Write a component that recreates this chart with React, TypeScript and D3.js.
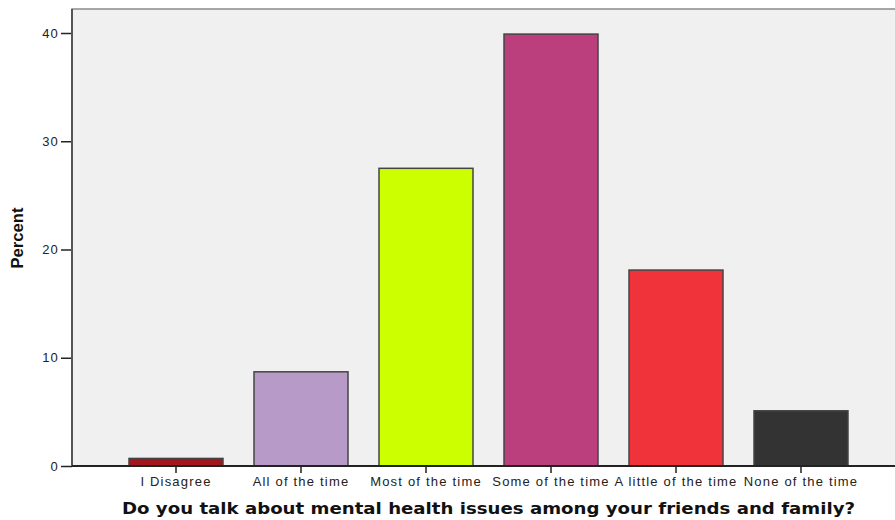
import React, { useEffect, useRef } from 'react';
import * as d3 from 'd3';

const categories = ['I Disagree', 'All of the time', 'Most of the time', 'Some of the time', 'A little of the time', 'None of the time'];
const percents = [0.7, 8.7, 27.5, 39.9, 18.1, 5.1];
const barColors = ['#a3171c', '#b89ac8', '#ccff00', '#bb3e7d', '#f0333a', '#333333'];
const yTicks = [0, 10, 20, 30, 40];

const App: React.FC = () => {
  const svgRef = useRef<SVGSVGElement>(null);
  useEffect(() => {
    const width = 895;
    const height = 520;
    const left = 72, top = 9, bottom = 466, right = 897;

    const svg = d3.select(svgRef.current)
      .attr('width', width)
      .attr('height', height);
    svg.selectAll('*').remove();

    // plot background
    svg.append('rect')
      .attr('x', left).attr('y', top)
      .attr('width', right - left).attr('height', bottom - top)
      .attr('fill', '#f0f0f0')
      .attr('stroke', '#8a8a8a')
      .attr('stroke-width', 1.5);

    const x = d3.scaleBand()
      .domain(categories)
      .range([113.5, 863.5])
      .paddingInner(0.248)
      .paddingOuter(0.124);

    const y = d3.scaleLinear()
      .domain([0, 40])
      .range([bottom, 33]);

    svg.selectAll('.bar')
      .data(categories)
      .enter().append('rect')
      .attr('class', 'bar')
      .attr('x', d => x(d)!)
      .attr('y', (d, i) => y(percents[i]))
      .attr('width', x.bandwidth())
      .attr('height', (d, i) => bottom - y(percents[i]))
      .attr('fill', (d, i) => barColors[i])
      .attr('stroke', '#444')
      .attr('stroke-width', 1.5);

    // y axis
    const yAxis = svg.append('g')
      .attr('transform', `translate(${left},0)`)
      .call(d3.axisLeft(y).tickValues(yTicks).tickSize(11).tickPadding(2).tickFormat(d3.format('d')));
    yAxis.select('.domain').remove();
    yAxis.selectAll('line').attr('stroke', '#222').attr('stroke-width', 1.5);
    yAxis.selectAll('text')
      .attr('font-family', '"Liberation Sans", Arial, sans-serif')
      .attr('font-size', 13)
      .attr('letter-spacing', 1.2)
      .attr('fill', '#222');

    svg.append('line')
      .attr('x1', left).attr('x2', left)
      .attr('y1', top).attr('y2', bottom)
      .attr('stroke', '#555').attr('stroke-width', 2);

    // x axis
    const xAxis = svg.append('g')
      .attr('transform', `translate(0,${bottom})`)
      .call(d3.axisBottom(x).tickSize(7).tickPadding(4));
    xAxis.select('.domain').remove();
    xAxis.selectAll('line').attr('stroke', '#222').attr('stroke-width', 1.5);
    xAxis.selectAll('text')
      .attr('font-family', '"Liberation Sans", Arial, sans-serif')
      .attr('font-size', 13)
      .attr('letter-spacing', 1.2)
      .attr('fill', '#222');

    svg.append('line')
      .attr('x1', left).attr('x2', right)
      .attr('y1', bottom).attr('y2', bottom)
      .attr('stroke', '#222').attr('stroke-width', 2);

    // titles
    svg.append('text')
      .attr('transform', `translate(23,238) rotate(-90)`)
      .attr('text-anchor', 'middle')
      .attr('font-family', '"Liberation Sans Narrow", "Liberation Sans", Arial, sans-serif')
      .attr('font-weight', 'bold')
      .attr('font-size', 17)
      .attr('textLength', 61)
      .attr('lengthAdjust', 'spacingAndGlyphs')
      .attr('fill', '#111')
      .text('Percent');

    svg.append('text')
      .attr('x', 122)
      .attr('y', 514)
      .attr('textLength', 733)
      .attr('lengthAdjust', 'spacingAndGlyphs')
      .attr('font-family', '"DejaVu Sans", Verdana, sans-serif')
      .attr('font-weight', 'bold')
      .attr('font-size', 16)
      .attr('fill', '#111')
      .text('Do you talk about mental health issues among your friends and family?');
  }, []);

  return (
    <div style={{ position: 'absolute', left: 0, top: 0 }}>
      <svg ref={svgRef} style={{ display: 'block' }}></svg>
    </div>
  );
};

export default App;
